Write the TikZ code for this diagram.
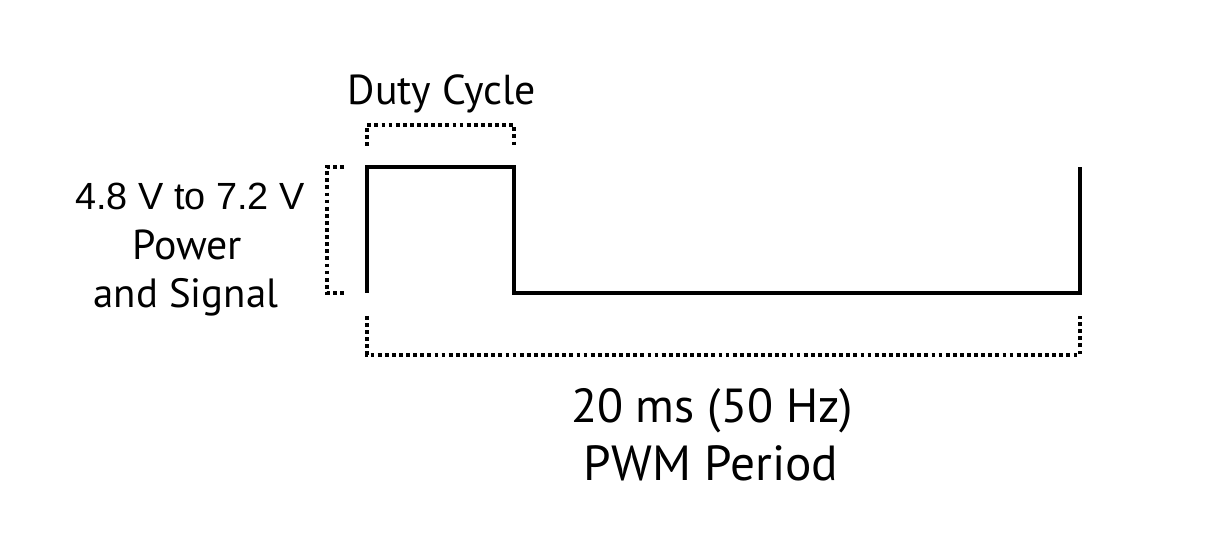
\documentclass[tikz,border=0pt]{standalone}
\usepackage{fontspec}
\setmainfont{PT Sans}
\newfontfamily\arialf{Liberation Sans}
\begin{document}
\begin{tikzpicture}[x=1bp,y=-1bp,
  wave/.style={line width=3.5bp, line join=miter},
  brk/.style={line width=4.2bp, dash pattern=on 3.8bp off 3.3bp},
  lbl/.style={anchor=base, inner sep=0pt, text=black}]
\useasboundingbox (0,0) rectangle (1206,546);
% waveform
\coordinate (p0) at (367,293);
\coordinate (p1) at (367,167);
\coordinate (p2) at (514,167);
\coordinate (p3) at (514,293);
\coordinate (p4) at (1080,293);
\coordinate (p5) at (1080,167);
\draw[wave] (p0) -- (p1) -- (p2) -- (p3) -- (p4) -- (p5);
% brackets
\coordinate (d0) at (367,146);
\coordinate (d1) at (367,125);
\coordinate (d2) at (514,125);
\coordinate (d3) at (514,146);
\draw[brk] (d0) -- (d1) -- (d2) -- (d3);
\coordinate (l0) at (344,167);
\coordinate (l1) at (327,167);
\coordinate (l2) at (327,293);
\coordinate (l3) at (344,293);
\draw[brk] (l0) -- (l1) -- (l2) -- (l3);
\coordinate (b0) at (367,316);
\coordinate (b1) at (367,355);
\coordinate (b2) at (1080,355);
\coordinate (b3) at (1080,316);
\draw[brk] (b0) -- (b1) -- (b2) -- (b3);
% labels
\node[lbl, font=\fontsize{42}{48}\selectfont] (duty) at (442,105) {Duty Cycle};
\node[lbl, font=\arialf\fontsize{38}{44}\selectfont] (volt) at (190,210) {4.8 V to 7.2 V};
\node[lbl, font=\fontsize{42}{48}\selectfont] (pow) at (187,260) {Power};
\node[lbl, font=\fontsize{41}{48}\selectfont] (sig) at (186,308) {and Signal};
\node[lbl, font=\fontsize{48}{56}\selectfont] (per) at (712,422) {20 ms (50 Hz)};
\node[lbl, font=\fontsize{49.5}{56}\selectfont] (pwm) at (711,480) {PWM Period};
\end{tikzpicture}
\end{document}
